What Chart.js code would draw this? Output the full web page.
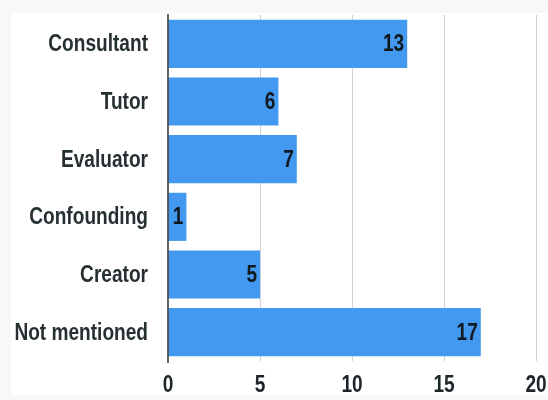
<!DOCTYPE html>
<html>
<head>
<meta charset="utf-8">
<script src="https://cdn.jsdelivr.net/npm/chart.js@4.4.1/dist/chart.umd.min.js"></script>
<style>
  html, body { margin: 0; padding: 0; background: #f8f8f8; }
  #wrap { width: 548px; height: 400px; position: relative; }
</style>
</head>
<body>
<div id="wrap"><canvas id="chart" width="548" height="400"></canvas></div>
<script>
// data
const categories = ['Consultant', 'Tutor', 'Evaluator', 'Confounding', 'Creator', 'Not mentioned'];
const counts = [13, 6, 7, 1, 5, 17];
const xTicks = [0, 5, 10, 15, 20];

const FONT = '"Liberation Sans", Arial, sans-serif';
const BAR = '#4299ef';
const SQUEEZE = 0.83;   // the original type is a condensed bold face

// text squeezed horizontally, anchored at x
function narrowText(ctx, txt, x, y, align) {
  ctx.save();
  ctx.translate(x, y);
  ctx.scale(SQUEEZE, 1);
  ctx.textAlign = align;
  ctx.textBaseline = 'middle';
  ctx.fillText(txt, 0, 0);
  ctx.restore();
}

const drawing = {
  id: 'drawing',
  beforeDraw(chart) {
    const ctx = chart.ctx;
    ctx.save();
    ctx.fillStyle = '#ffffff';
    ctx.fillRect(11, 13, chart.width - 11, 382);
    ctx.restore();
  },
  afterDatasetsDraw(chart) {
    const ctx = chart.ctx;
    const area = chart.chartArea;
    const xs = chart.scales.x, ys = chart.scales.y;
    const meta = chart.getDatasetMeta(0);
    ctx.save();
    // left axis line, running a little below the last bar
    ctx.strokeStyle = '#2a3236';
    ctx.lineWidth = 1.5;
    ctx.beginPath();
    ctx.moveTo(area.left, area.top - 1);
    ctx.lineTo(area.left, area.bottom + 2);
    ctx.stroke();

    ctx.font = 'bold 23px ' + FONT;
    // counts inside the bar ends
    ctx.fillStyle = '#101820';
    meta.data.forEach((bar, i) => narrowText(ctx, String(counts[i]), bar.x - 3, bar.y + 1, 'right'));
    // category labels
    ctx.fillStyle = '#263033';
    categories.forEach((c, i) => narrowText(ctx, c, area.left - 20, ys.getPixelForTick(i) + 1, 'right'));
    // x tick labels
    ctx.fillStyle = '#1c2528';
    xTicks.forEach(v => narrowText(ctx, String(v), xs.getPixelForValue(v), 386, 'center'));
    ctx.restore();
  }
};

new Chart(document.getElementById('chart'), {
  type: 'bar',
  data: {
    labels: categories,
    datasets: [{
      data: counts,
      backgroundColor: BAR,
      borderWidth: 0,
      categoryPercentage: 0.835,
      barPercentage: 1
    }]
  },
  options: {
    indexAxis: 'y',
    responsive: false,
    animation: false,
    layout: { padding: { top: 15, right: 12, left: 0, bottom: 0 } },
    plugins: { legend: { display: false }, tooltip: { enabled: false } },
    scales: {
      x: {
        min: 0, max: 20,
        afterBuildTicks(scale) { scale.ticks = xTicks.map(v => ({ value: v })); },
        afterFit(scale) {
          scale.height = 39;
          scale.paddingLeft = scale.paddingRight = scale.paddingTop = scale.paddingBottom = 0;
        },
        grid: {
          drawTicks: false,
          color: ctx => ctx.tick && ctx.tick.value === 0 ? 'rgba(0,0,0,0)' : '#cfd3d6',
          lineWidth: 1
        },
        border: { display: false },
        ticks: { display: false }
      },
      y: {
        afterFit(scale) {
          scale.width = 168;
          scale.paddingLeft = scale.paddingRight = scale.paddingTop = scale.paddingBottom = 0;
        },
        grid: { display: false, drawTicks: false },
        border: { display: false },
        ticks: { display: false }
      }
    }
  },
  plugins: [drawing]
});
</script>
</body>
</html>
